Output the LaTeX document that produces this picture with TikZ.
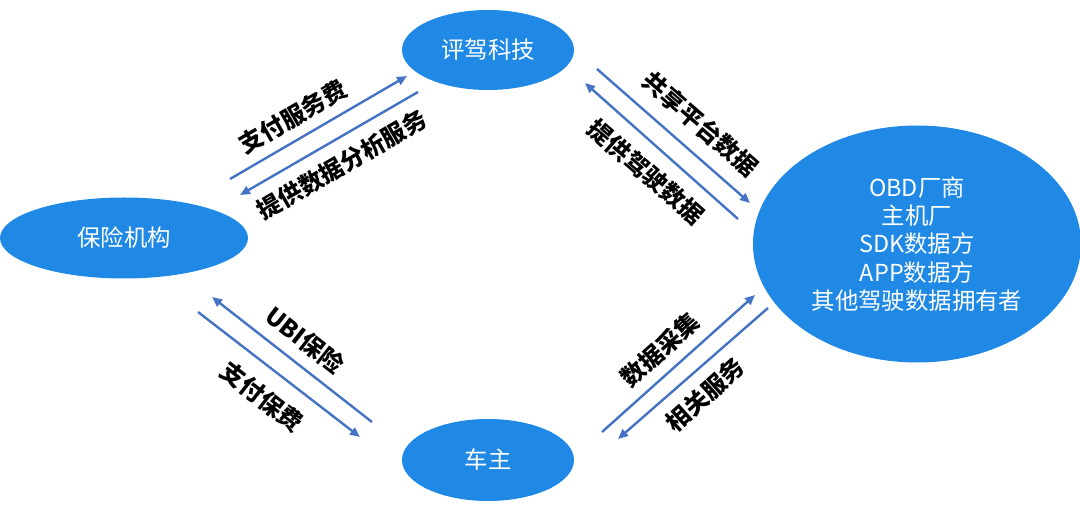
\documentclass[tikz,border=0pt]{standalone}
\usepackage{fontspec}
\setmainfont{Noto Sans CJK SC}
\usetikzlibrary{shapes.geometric,arrows.meta}
\definecolor{bubble}{RGB}{31,137,229}
\definecolor{flowblue}{RGB}{68,114,196}
\tikzset{
  party/.style={ellipse,fill=bubble,text=white,inner sep=0pt,align=center,font=\fontsize{23.5}{28.5}\selectfont},
  flow/.style={flowblue,line width=2.4bp,-{Triangle[length=10bp,width=8.5bp]}},
  lbl/.style={font=\bfseries\fontsize{24}{28}\selectfont}
}
\begin{document}
\begin{tikzpicture}[x=1bp,y=-1bp]
    \useasboundingbox (0,0) rectangle (1080,519);
    % the four parties
    \node[party,minimum width=172bp,minimum height=80bp] (pingjia) at (488,50) {评驾科技};
    \node[party,minimum width=248bp,minimum height=81bp] (insurer) at (124,238) {保险机构};
    \node[party,minimum width=172bp,minimum height=82bp] (owner) at (488,460) {车主};
    \node[party,minimum width=328bp,minimum height=237bp] (holders) at (917,244)
        {OBD厂商\\主机厂\\SDK数据方\\APP数据方\\其他驾驶数据拥有者};
    % arrow ends
    \coordinate (fee0) at (230,179);   \coordinate (fee1) at (407,76);
    \coordinate (ana0) at (418,92);    \coordinate (ana1) at (240,195);
    \coordinate (share0) at (597,69);  \coordinate (share1) at (750,203);
    \coordinate (drive0) at (738,219); \coordinate (drive1) at (585,83);
    \coordinate (ubi0) at (372,422);   \coordinate (ubi1) at (212,297);
    \coordinate (prem0) at (198,312);  \coordinate (prem1) at (360,437);
    \coordinate (coll0) at (602,432);  \coordinate (coll1) at (755,295);
    \coordinate (serv0) at (768,308);  \coordinate (serv1) at (618,439);
    \draw[flow] (fee0) -- (fee1);
    \draw[flow] (ana0) -- (ana1);
    \draw[flow] (share0) -- (share1);
    \draw[flow] (drive0) -- (drive1);
    \draw[flow] (ubi0) -- (ubi1);
    \draw[flow] (prem0) -- (prem1);
    \draw[flow] (coll0) -- (coll1);
    \draw[flow] (serv0) -- (serv1);
    % labels
    \node[lbl,rotate=30] (feelbl) at (293,117) {支付服务费};
    \node[lbl,rotate=30] (analbl) at (342,165) {提供数据分析服务};
    \node[lbl,rotate=-41] (sharelbl) at (701,124) {共享平台数据};
    \node[lbl,rotate=-41] (drivelbl) at (646,172) {提供驾驶数据};
    \node[lbl,rotate=-38] (ubilbl) at (305,340) {UBI保险};
    \node[lbl,rotate=-38] (premlbl) at (262,397) {支付保费};
    \node[lbl,rotate=42] (colllbl) at (660,350) {数据采集};
    \node[lbl,rotate=42] (servlbl) at (705,395) {相关服务};
\end{tikzpicture}
\end{document}
